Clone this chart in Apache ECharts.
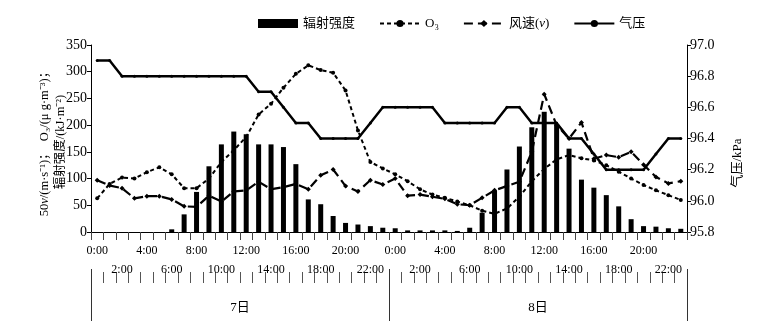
<!DOCTYPE html>
<html>
<head>
<meta charset="utf-8">
<script src="https://cdn.jsdelivr.net/npm/echarts@6/dist/echarts.min.js"></script>
<style>
  html, body { margin: 0; padding: 0; background: #fff; }
  #main { width: 757px; height: 325px; }
</style>
</head>
<body>
<div id="main"></div>
<script>
  // 横轴：7日、8日逐时
  const hours = [
    '0:00', '1:00', '2:00', '3:00', '4:00', '5:00', '6:00', '7:00', '8:00', '9:00', '10:00', '11:00',
    '12:00', '13:00', '14:00', '15:00', '16:00', '17:00', '18:00', '19:00', '20:00', '21:00', '22:00', '23:00',
    '0:00', '1:00', '2:00', '3:00', '4:00', '5:00', '6:00', '7:00', '8:00', '9:00', '10:00', '11:00',
    '12:00', '13:00', '14:00', '15:00', '16:00', '17:00', '18:00', '19:00', '20:00', '21:00', '22:00', '23:00'
  ]
  const days = ['7日', '8日']

  // 辐射强度 kJ/m2
  const radiation = [
    0, 0, 0, 0, 0, 0, 5, 33, 75, 123, 164, 188,
    183, 164, 164, 159, 127, 61, 52, 30, 17, 14, 11, 8,
    7, 3, 3, 3, 3, 2, 8, 36, 78, 117, 160, 196,
    225, 202, 156, 98, 83, 69, 48, 24, 11, 10, 7, 6
  ]
  // O3 μg/m3
  const o3 = [
    63, 90, 102, 100, 112, 121, 108, 82, 82, 100, 131, 153,
    178, 220, 240, 270, 296, 312, 303, 298, 265, 190, 131, 119,
    108, 95, 80, 70, 64, 57, 50, 40, 34, 44, 66, 95,
    118, 136, 144, 138, 134, 125, 113, 100, 88, 78, 69, 60
  ]
  // 50倍风速
  const wind = [
    97, 87, 82, 63, 67, 67, 61, 48, 47, 68, 57, 76,
    78, 94, 80, 84, 90, 80, 106, 117, 86, 76, 97, 89,
    100, 68, 70, 66, 62, 52, 50, 64, 78, 86, 94, 150,
    258, 200, 175, 205, 137, 144, 140, 150, 126, 103, 91, 95
  ]
  // 气压 kPa
  const pressure = [
    96.9, 96.9, 96.8, 96.8, 96.8, 96.8, 96.8, 96.8, 96.8, 96.8, 96.8, 96.8,
    96.8, 96.7, 96.7, 96.6, 96.5, 96.5, 96.4, 96.4, 96.4, 96.4, 96.5, 96.6,
    96.6, 96.6, 96.6, 96.6, 96.5, 96.5, 96.5, 96.5, 96.5, 96.6, 96.6, 96.5,
    96.5, 96.5, 96.4, 96.4, 96.3, 96.2, 96.2, 96.2, 96.2, 96.3, 96.4, 96.4
  ]

  const serif = "'Times New Roman', 'Liberation Serif', 'Noto Sans CJK SC', serif"
  const hiddenLine = { show: true, onZero: false, lineStyle: { color: 'rgba(0,0,0,0)', width: 0 } }

  const myChart = echarts.init(document.getElementById('main'))
  const option = {
    animation: false,
    backgroundColor: '#fff',
    textStyle: { fontFamily: serif, color: '#000' },
    legend: {
      left: 253,
      top: 12,
      itemWidth: 40,
      itemHeight: 9,
      itemGap: 24,
      textStyle: {
        fontFamily: serif,
        fontSize: 13,
        color: '#000',
        rich: { i: { fontStyle: 'italic', fontFamily: serif, fontSize: 13 } }
      },
      formatter: function (name) {
        return name === '风速(v)' ? '风速({i|v})' : name
      },
      data: [
        { name: '辐射强度', icon: 'rect' },
        'O₃', '风速(v)', '气压'
      ]
    },
    grid: { left: 91, right: 70, top: 45, bottom: 93 },
    xAxis: [{
      type: 'category',
      data: hours,
      axisLine: { show: true, onZero: false, lineStyle: { color: '#000', width: 1 } },
      axisTick: { show: true, interval: 0, length: 8, lineStyle: { color: '#444', width: 1 } },
      axisLabel: {
        interval: 0,
        margin: 9,
        fontSize: 12,
        lineHeight: 19,
        color: '#000',
        fontFamily: serif,
        formatter: function (val, i) {
          if (i % 4 === 0) return val
          if (i % 4 === 2) return '\n' + val
          return ''
        }
      }
    }, {
      // 下排短刻度
      type: 'category',
      data: hours,
      position: 'bottom',
      offset: 40,
      axisLine: hiddenLine,
      axisTick: { show: true, interval: 0, length: 11, lineStyle: { color: '#555', width: 1 } },
      axisLabel: { show: false }
    }, {
      // 日期分隔
      type: 'category',
      data: days,
      position: 'bottom',
      offset: 37,
      axisLine: hiddenLine,
      axisTick: { show: true, interval: 0, length: 52, lineStyle: { color: '#333', width: 1 } },
      axisLabel: { margin: 32, fontSize: 13, color: '#000', fontFamily: serif }
    }],
    yAxis: [{
      type: 'value',
      min: 0,
      max: 350,
      interval: 50,
      axisLine: { show: true, lineStyle: { color: '#000' } },
      axisTick: { show: true, length: 4, lineStyle: { color: '#000' } },
      axisLabel: { fontSize: 14, margin: 4, color: '#000', fontFamily: serif },
      splitLine: { show: false }
    }, {
      type: 'value',
      position: 'right',
      min: 95.8,
      max: 97.0,
      interval: 0.2,
      axisLine: { show: true, lineStyle: { color: '#000' } },
      axisTick: { show: true, length: 4, lineStyle: { color: '#000' } },
      axisLabel: {
        fontSize: 14,
        margin: 3,
        color: '#000',
        fontFamily: serif,
        formatter: function (v) { return v.toFixed(1) }
      },
      splitLine: { show: false }
    }],
    graphic: [{
      type: 'text',
      x: 45,
      y: 141,
      rotation: Math.PI / 2,
      style: {
        text: '50{i|v}/(m·s⁻¹)；  O₃/(μ g·m⁻³)；',
        align: 'center',
        verticalAlign: 'middle',
        fontSize: 12.5,
        fontFamily: serif,
        fill: '#000',
        rich: { i: { fontStyle: 'italic', fontSize: 12.5, fontFamily: serif } }
      }
    }, {
      type: 'text',
      x: 61,
      y: 142,
      rotation: Math.PI / 2,
      style: {
        text: '辐射强度/(kJ·m⁻²)',
        align: 'center',
        verticalAlign: 'middle',
        fontSize: 12.5,
        fontFamily: serif,
        fill: '#000'
      }
    }, {
      type: 'text',
      x: 738,
      y: 163,
      rotation: Math.PI / 2,
      style: {
        text: '气压/kPa',
        align: 'center',
        verticalAlign: 'middle',
        fontSize: 13,
        fontFamily: serif,
        fill: '#000'
      }
    }],
    series: [{
      name: '辐射强度',
      type: 'bar',
      xAxisIndex: 0,
      barWidth: 5,
      itemStyle: { color: '#000' },
      data: radiation
    }, {
      name: 'O₃',
      type: 'line',
      xAxisIndex: 0,
      symbol: 'circle',
      symbolSize: 4,
      itemStyle: { color: '#000' },
      lineStyle: { color: '#000', width: 2, type: [4, 3] },
      z: 3,
      data: o3
    }, {
      name: '风速(v)',
      type: 'line',
      xAxisIndex: 0,
      symbol: 'diamond',
      symbolSize: 5,
      itemStyle: { color: '#000' },
      lineStyle: { color: '#000', width: 2.2, type: [9, 5] },
      z: 3,
      data: wind
    }, {
      name: '气压',
      type: 'line',
      xAxisIndex: 0,
      yAxisIndex: 1,
      symbol: 'circle',
      symbolSize: 3,
      itemStyle: { color: '#000' },
      lineStyle: { color: '#000', width: 2.5 },
      z: 4,
      data: pressure
    }]
  }
  myChart.setOption(option)
</script>
</body>
</html>
